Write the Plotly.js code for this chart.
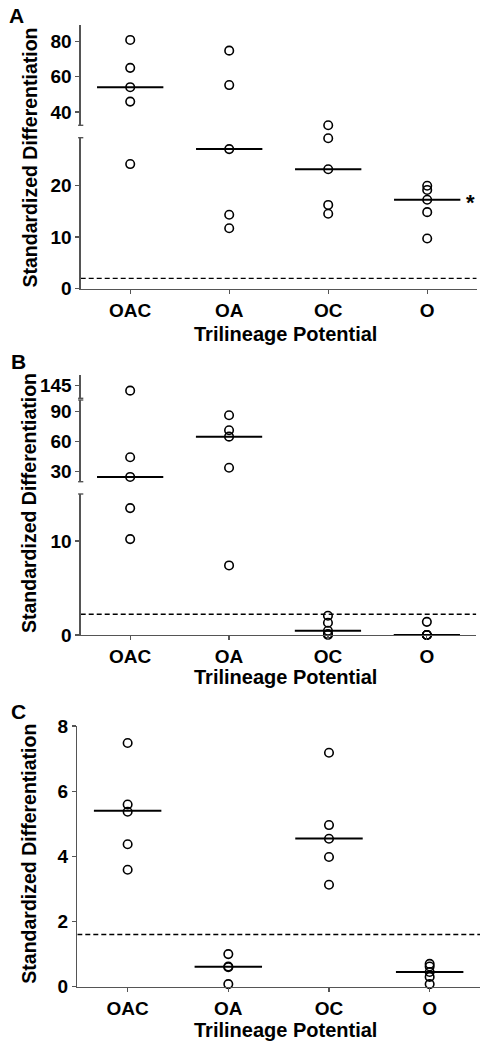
<!DOCTYPE html>
<html>
<head>
<meta charset="utf-8">
<script src="https://cdn.plot.ly/plotly-3.0.1.min.js"></script>
<style>html,body{margin:0;padding:0;background:#fff;}#chart{width:489px;height:1050px;}</style>
</head>
<body>
<div id="chart"></div>
<script>
// ---------------- DATA ----------------
const categories = ['OAC', 'OA', 'OC', 'O'];

// Panel A
const a_OAC = [81.0, 65.1, 54.1, 45.9, 24.1];
const a_OA  = [74.9, 55.3, 27.0, 14.3, 11.7];
const a_OC  = [31.6, 29.1, 23.1, 16.2, 14.5];
const a_O   = [19.9, 19.1, 17.2, 14.8, 9.7];
const a_median = [54.1, 27.0, 23.1, 17.2];
const a_threshold = 2.0;

// Panel B
const b_OAC = [139.8, 44.1, 24.3, 13.5, 10.2];
const b_OA  = [86.4, 71.3, 64.9, 33.6, 7.4];
const b_OC  = [2.05, 1.3, 0.45, 0.1, 0.0];
const b_O   = [1.4, 0.0, 0.0, 0.0, 0.0];
const b_median = [24.3, 64.9, 0.45, 0.0];
const b_threshold = 2.2;

// Panel C
const c_OAC = [7.48, 5.59, 5.37, 4.37, 3.59];
const c_OA  = [1.0, 0.62, 0.6, 0.08];
const c_OC  = [7.18, 4.96, 4.54, 3.98, 3.13];
const c_O   = [0.7, 0.62, 0.45, 0.3, 0.08];
const c_median = [5.4, 0.61, 4.55, 0.45];
const c_threshold = 1.6;

// Tick labels
const a_ticksLower = [0, 10, 20];
const a_ticksUpper = [40, 60, 80];
const b_ticksLower = [0, 10];
const b_ticksMiddle = [30, 60, 90];
const b_ticksTop = [145];
const c_ticks = [0, 2, 4, 6, 8];

const xTitle = 'Trilineage Potential';
const yTitle = 'Standardized Differentiation';

// ---------------- LAYOUT GEOMETRY ----------------
const W = 489, H = 1050;
const PX = v => v / W;
const PY = v => 1 - v / H;
const AXC = '#555';
const FONT = 'Liberation Sans, Arial, Helvetica, sans-serif';
const TICKFONT = {family: FONT, size: 19, weight: 'bold', color: '#000'};

const panels = [
  {
    label: 'A', labelPos: [16, 15.5], yTitleY: 157.5, xTitleY: 333.5,
    xDom: [80.7, 476.7],
    series: [a_OAC, a_OA, a_OC, a_O], median: a_median, threshold: a_threshold,
    segments: [
      {dom: [288.7, 137.7], range: [0, 29.2], ticks: a_ticksLower, capTop: true},
      {dom: [125.3, 25], range: [32.4, 89.5], ticks: a_ticksUpper, capBottom: true}
    ],
    star: {cat: 3}
  },
  {
    label: 'B', labelPos: [18, 361.5], yTitleY: 503, xTitleY: 677,
    xDom: [80.7, 476.3],
    series: [b_OAC, b_OA, b_OC, b_O], median: b_median, threshold: b_threshold,
    segments: [
      {dom: [635, 494], range: [0, 15], ticks: b_ticksLower, capTop: true},
      {dom: [481.7, 400], range: [19.5, 101.8], ticks: b_ticksMiddle, capTop: true, capBottom: true},
      {dom: [398.3, 375], range: [132.1, 155.6], ticks: b_ticksTop, capBottom: true}
    ]
  },
  {
    label: 'C', labelPos: [18, 711], yTitleY: 853.7, xTitleY: 1030,
    xDom: [77.3, 480],
    series: [c_OAC, c_OA, c_OC, c_O], median: c_median, threshold: c_threshold,
    segments: [
      {dom: [986.7, 726], range: [0, 8], ticks: c_ticks}
    ]
  }
];

const layout = {
  width: W, height: H,
  margin: {l: 0, r: 0, t: 0, b: 0},
  showlegend: false,
  paper_bgcolor: '#fff', plot_bgcolor: 'rgba(0,0,0,0)',
  font: {family: FONT, color: '#000'},
  annotations: [], shapes: []
};
const traces = [];
let yCount = 0;
function newY() { yCount++; return yCount === 1 ? 'y' : 'y' + yCount; }
function yKeyOf(ref) { return ref === 'y' ? 'yaxis' : 'yaxis' + ref.slice(1); }

// where does a value go: inside segment i -> {seg:i}; in the gap above segment i -> {gap:i}
function place(segs, v) {
  for (let i = 0; i < segs.length; i++) {
    if (v >= segs[i].range[0] - 1e-9 && v <= segs[i].range[1] + 1e-9) return {seg: i};
  }
  for (let i = 0; i < segs.length - 1; i++) {
    if (v > segs[i].range[1] && v < segs[i + 1].range[0]) return {gap: i};
  }
  return {seg: v < segs[0].range[0] ? 0 : segs.length - 1};
}

panels.forEach((p, k) => {
  const xKey = k === 0 ? 'xaxis' : 'xaxis' + (k + 1);
  const xRef = k === 0 ? 'x' : 'x' + (k + 1);
  const yRefs = p.segments.map(() => newY());

  layout[xKey] = {
    domain: [PX(p.xDom[0]), PX(p.xDom[1])],
    range: [-0.5, 3.5], anchor: yRefs[0],
    tickmode: 'array', tickvals: categories.map((c, i) => i), ticktext: categories,
    showline: true, linecolor: AXC, linewidth: 1.3,
    ticks: 'outside', ticklen: 4, tickcolor: AXC, tickwidth: 1.2,
    showgrid: false, zeroline: false, fixedrange: true,
    tickfont: TICKFONT
  };

  p.segments.forEach((s, si) => {
    layout[yKeyOf(yRefs[si])] = {
      domain: [PY(s.dom[0]), PY(s.dom[1])],
      range: s.range, anchor: xRef,
      tickmode: 'array', tickvals: s.ticks,
      showline: true, linecolor: AXC, linewidth: 1.3,
      ticks: 'outside', ticklen: 4, tickcolor: AXC, tickwidth: 1.2,
      showgrid: false, zeroline: false, fixedrange: true,
      tickfont: TICKFONT
    };
    const ax = p.xDom[0];
    if (s.capTop) layout.shapes.push({type: 'line', xref: 'paper', yref: yRefs[si] + ' domain',
      x0: PX(ax - 2.6), x1: PX(ax + 2.6), y0: 1, y1: 1, line: {color: AXC, width: 1.4}});
    if (s.capBottom) layout.shapes.push({type: 'line', xref: 'paper', yref: yRefs[si] + ' domain',
      x0: PX(ax - 2.6), x1: PX(ax + 2.6), y0: 0, y1: 0, line: {color: AXC, width: 1.4}});
  });

  // hidden axes continuing a segment's scale through the break (for values drawn in the gap)
  const gapRefs = {};
  function gapAxis(i) {
    if (gapRefs[i]) return gapRefs[i];
    const s = p.segments[i], n = p.segments[i + 1];
    const pxPerUnit = (s.dom[0] - s.dom[1]) / (s.range[1] - s.range[0]);
    const ref = newY();
    layout[yKeyOf(ref)] = {
      domain: [PY(s.dom[0]), PY(n.dom[1])],
      range: [s.range[0], s.range[0] + (s.dom[0] - n.dom[1]) / pxPerUnit],
      anchor: xRef, visible: false, fixedrange: true, showgrid: false, zeroline: false
    };
    gapRefs[i] = ref;
    return ref;
  }

  // threshold dashed line (in the lowest segment)
  traces.push({
    type: 'scatter', mode: 'lines', xaxis: xRef, yaxis: yRefs[0],
    x: [-0.5, 3.5], y: [p.threshold, p.threshold],
    line: {color: '#000', width: 1.4, dash: '5px,3px'}, hoverinfo: 'skip', cliponaxis: false
  });

  // group points and medians by target axis
  const groups = {};
  function grp(ref) { return groups[ref] || (groups[ref] = {xs: [], ys: [], mx: [], my: []}); }
  function refFor(v) {
    const pl = place(p.segments, v);
    return pl.gap !== undefined ? gapAxis(pl.gap) : yRefs[pl.seg];
  }
  p.series.forEach((vals, ci) => vals.forEach(v => { const g = grp(refFor(v)); g.xs.push(ci); g.ys.push(v); }));
  p.median.forEach((m, ci) => { const g = grp(refFor(m)); g.mx.push(ci - 0.335, ci + 0.335, null); g.my.push(m, m, null); });

  Object.keys(groups).forEach(ref => {
    const g = groups[ref];
    if (g.mx.length) traces.push({
      type: 'scatter', mode: 'lines', xaxis: xRef, yaxis: ref,
      x: g.mx, y: g.my, line: {color: '#000', width: 2}, hoverinfo: 'skip', cliponaxis: false
    });
    if (g.xs.length) traces.push({
      type: 'scatter', mode: 'markers', xaxis: xRef, yaxis: ref,
      x: g.xs, y: g.ys, cliponaxis: false,
      marker: {symbol: 'circle-open', size: 8.5, color: '#000', line: {color: '#000', width: 1.6}}
    });
  });

  // panel label
  layout.annotations.push({text: p.label, xref: 'paper', yref: 'paper',
    x: PX(p.labelPos[0]), y: PY(p.labelPos[1]), xanchor: 'center', yanchor: 'middle',
    showarrow: false, font: {family: FONT, size: 21, weight: 'bold', color: '#000'}});
  // y title
  layout.annotations.push({text: yTitle, xref: 'paper', yref: 'paper', textangle: -90,
    x: PX(29), y: PY(p.yTitleY), xanchor: 'center', yanchor: 'middle',
    showarrow: false, font: {family: FONT, size: 19.5, weight: 'bold', color: '#000'}});
  // x title
  layout.annotations.push({text: xTitle, xref: 'paper', yref: 'paper',
    x: PX(285.5), y: PY(p.xTitleY), xanchor: 'center', yanchor: 'middle',
    showarrow: false, font: {family: FONT, size: 20, weight: 'bold', color: '#000'}});
  // significance asterisk
  if (p.star) {
    const ci = p.star.cat;
    const m = p.median[ci];
    layout.annotations.push({text: '*', xref: xRef, yref: refFor(m),
      x: ci + 0.335, y: m, xshift: 10, yshift: -3, xanchor: 'center', yanchor: 'middle',
      showarrow: false, font: {family: FONT, size: 22, weight: 'bold', color: '#000'}});
  }
});

Plotly.newPlot('chart', traces, layout, {displayModeBar: false, staticPlot: true});
</script>
</body>
</html>
